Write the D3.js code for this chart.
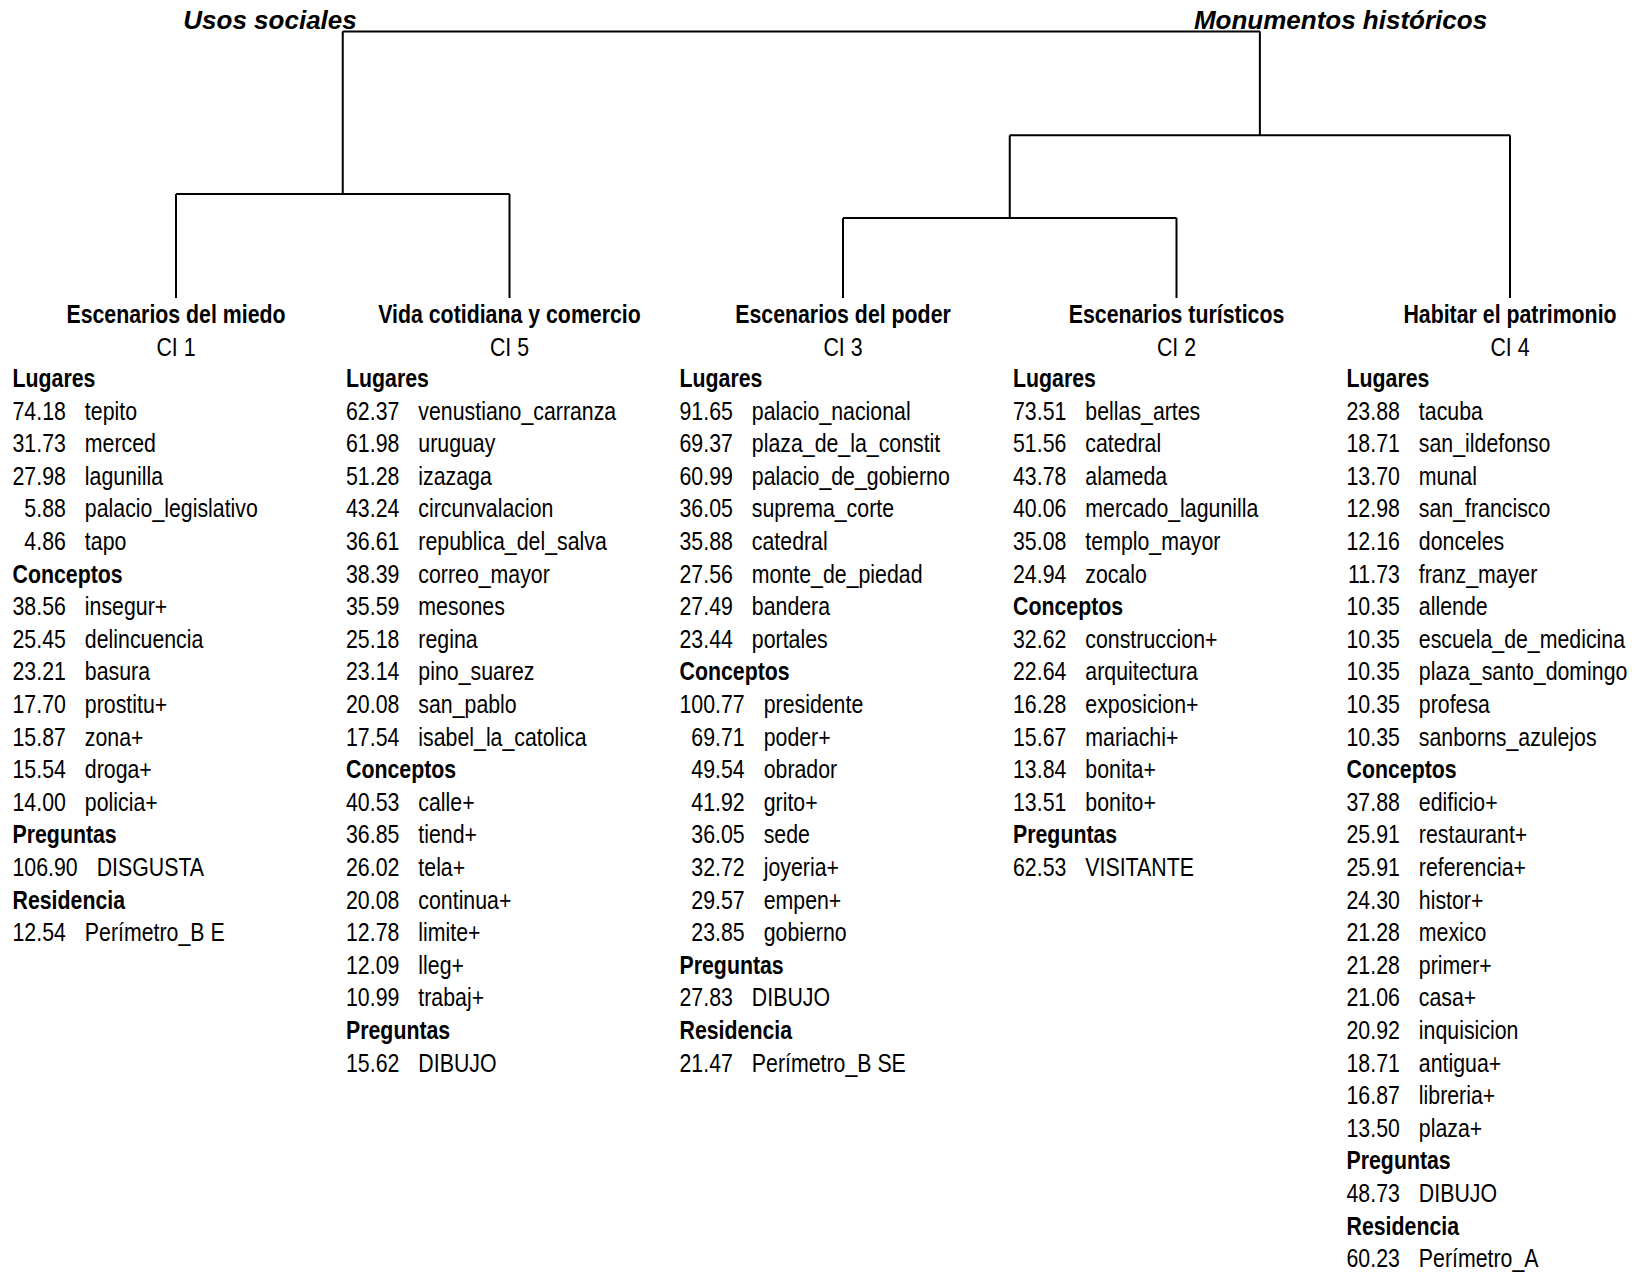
<!DOCTYPE html>
<html>
<head>
<meta charset="utf-8">
<script src="https://cdn.jsdelivr.net/npm/d3@7"></script>
<style>
  body { margin: 0; background: #fff; }
</style>
</head>
<body>
<div id="chart"></div>
<script>
// Dendrogram of the clusters
const nodeIds     = ["root", "usos", "monumentos", "poderTur", "CI 1", "CI 5", "CI 3", "CI 2", "CI 4"];
const nodeParents = ["",     "root", "root",       "monumentos", "usos", "usos", "poderTur", "poderTur", "monumentos"];
const nodeHeights = [1.0,    0.39,   0.61,         0.30,     0,      0,      0,      0,      0];
const nodeTitles  = ["", "Usos sociales", "Monumentos históricos", "", "", "", "", "", ""];

const leafOrder = ["CI 1", "CI 5", "CI 3", "CI 2", "CI 4"];
const clusterNames = ["Escenarios del miedo", "Vida cotidiana y comercio", "Escenarios del poder", "Escenarios turísticos", "Habitar el patrimonio"];

// Characteristic forms of each class
const ci1Lugares = [[74.18, "tepito"], [31.73, "merced"], [27.98, "lagunilla"], [5.88, "palacio_legislativo"], [4.86, "tapo"]];
const ci1Conceptos = [[38.56, "insegur+"], [25.45, "delincuencia"], [23.21, "basura"], [17.70, "prostitu+"], [15.87, "zona+"], [15.54, "droga+"], [14.00, "policia+"]];
const ci1Preguntas = [[106.90, "DISGUSTA"]];
const ci1Residencia = [[12.54, "Perímetro_B E"]];

const ci5Lugares = [[62.37, "venustiano_carranza"], [61.98, "uruguay"], [51.28, "izazaga"], [43.24, "circunvalacion"], [36.61, "republica_del_salva"], [38.39, "correo_mayor"], [35.59, "mesones"], [25.18, "regina"], [23.14, "pino_suarez"], [20.08, "san_pablo"], [17.54, "isabel_la_catolica"]];
const ci5Conceptos = [[40.53, "calle+"], [36.85, "tiend+"], [26.02, "tela+"], [20.08, "continua+"], [12.78, "limite+"], [12.09, "lleg+"], [10.99, "trabaj+"]];
const ci5Preguntas = [[15.62, "DIBUJO"]];

const ci3Lugares = [[91.65, "palacio_nacional"], [69.37, "plaza_de_la_constit"], [60.99, "palacio_de_gobierno"], [36.05, "suprema_corte"], [35.88, "catedral"], [27.56, "monte_de_piedad"], [27.49, "bandera"], [23.44, "portales"]];
const ci3Conceptos = [[100.77, "presidente"], [69.71, "poder+"], [49.54, "obrador"], [41.92, "grito+"], [36.05, "sede"], [32.72, "joyeria+"], [29.57, "empen+"], [23.85, "gobierno"]];
const ci3Preguntas = [[27.83, "DIBUJO"]];
const ci3Residencia = [[21.47, "Perímetro_B SE"]];

const ci2Lugares = [[73.51, "bellas_artes"], [51.56, "catedral"], [43.78, "alameda"], [40.06, "mercado_lagunilla"], [35.08, "templo_mayor"], [24.94, "zocalo"]];
const ci2Conceptos = [[32.62, "construccion+"], [22.64, "arquitectura"], [16.28, "exposicion+"], [15.67, "mariachi+"], [13.84, "bonita+"], [13.51, "bonito+"]];
const ci2Preguntas = [[62.53, "VISITANTE"]];

const ci4Lugares = [[23.88, "tacuba"], [18.71, "san_ildefonso"], [13.70, "munal"], [12.98, "san_francisco"], [12.16, "donceles"], [11.73, "franz_mayer"], [10.35, "allende"], [10.35, "escuela_de_medicina"], [10.35, "plaza_santo_domingo"], [10.35, "profesa"], [10.35, "sanborns_azulejos"]];
const ci4Conceptos = [[37.88, "edificio+"], [25.91, "restaurant+"], [25.91, "referencia+"], [24.30, "histor+"], [21.28, "mexico"], [21.28, "primer+"], [21.06, "casa+"], [20.92, "inquisicion"], [18.71, "antigua+"], [16.87, "libreria+"], [13.50, "plaza+"]];
const ci4Preguntas = [[48.73, "DIBUJO"]];
const ci4Residencia = [[60.23, "Perímetro_A"]];

const clusterSections = [
  [["Lugares", ci1Lugares], ["Conceptos", ci1Conceptos], ["Preguntas", ci1Preguntas], ["Residencia", ci1Residencia]],
  [["Lugares", ci5Lugares], ["Conceptos", ci5Conceptos], ["Preguntas", ci5Preguntas]],
  [["Lugares", ci3Lugares], ["Conceptos", ci3Conceptos], ["Preguntas", ci3Preguntas], ["Residencia", ci3Residencia]],
  [["Lugares", ci2Lugares], ["Conceptos", ci2Conceptos], ["Preguntas", ci2Preguntas]],
  [["Lugares", ci4Lugares], ["Conceptos", ci4Conceptos], ["Preguntas", ci4Preguntas], ["Residencia", ci4Residencia]]
];

const W = 1641, H = 1272;
const FS = 26;

// check if the narrow font is there, otherwise squeeze the normal one
const ctx = document.createElement("canvas").getContext("2d");
ctx.font = `${FS}px "Liberation Sans"`;
const wideW = ctx.measureText("palacio_legislativo").width;
ctx.font = `${FS}px "Liberation Sans Narrow", "Liberation Sans"`;
const narrowW = ctx.measureText("palacio_legislativo").width;
const hasNarrow = narrowW < wideW * 0.9;
const family = hasNarrow ? '"Liberation Sans Narrow", "Arial Narrow", sans-serif' : '"Liberation Sans", Arial, sans-serif';
const sx = hasNarrow ? 1 : 0.82;

function measure(str, bold) {
  ctx.font = `${bold ? "bold " : ""}${FS}px ${family}`;
  return ctx.measureText(str).width * sx;
}

const svg = d3.select("#chart").append("svg")
  .attr("width", W)
  .attr("height", H)
  .style("display", "block")
  .style("background", "#fff");

function addText(g, x, y, str, bold, anchor) {
  return g.append("text")
    .attr("transform", `translate(${x},${y}) scale(${sx},1)`)
    .attr("font-family", family)
    .attr("font-size", FS)
    .attr("font-weight", bold ? "bold" : "normal")
    .attr("text-anchor", anchor || "start")
    .attr("fill", "#000")
    .text(str);
}

// tree layout
const root = d3.stratify()
  .id((d, i) => nodeIds[i])
  .parentId((d, i) => nodeParents[i] || null)(nodeIds.map((id, i) => ({ id, h: nodeHeights[i], title: nodeTitles[i] })));

const x = d3.scalePoint().domain(leafOrder).range([176, 1510]);
const y = d3.scaleLinear().domain([0, 1]).range([298, 31.4]);

root.eachAfter(n => {
  if (!n.children) n.x = x(n.id);
  else {
    n.children.sort((a, b) => d3.min(a.leaves(), l => leafOrder.indexOf(l.id)) - d3.min(b.leaves(), l => leafOrder.indexOf(l.id)));
    n.x = d3.mean(n.children, c => c.x);
  }
  n.y = y(n.data.h);
});

const tree = svg.append("g")
  .attr("stroke", "#000")
  .attr("stroke-width", 2)
  .attr("fill", "none");

root.each(n => {
  if (!n.children) return;
  const xs = n.children.map(c => c.x);
  tree.append("line")
    .attr("x1", d3.min(xs)).attr("x2", d3.max(xs))
    .attr("y1", n.y).attr("y2", n.y);
  n.children.forEach(c => {
    tree.append("line")
      .attr("x1", c.x).attr("x2", c.x)
      .attr("y1", n.y).attr("y2", c.y);
  });
});

// branch titles
root.children.forEach((c, i) => {
  svg.append("text")
    .attr("x", i === 0 ? c.x + 14 : c.x - 66)
    .attr("y", 29)
    .attr("text-anchor", i === 0 ? "end" : "start")
    .attr("font-family", '"Liberation Sans", Arial, sans-serif')
    .attr("font-size", 26)
    .attr("font-weight", "bold")
    .attr("font-style", "italic")
    .attr("fill", "#000")
    .text(c.data.title);
});

// class columns
const fmt = d3.format(".2f");
const rowH = 32.6;
const gap = 19;

leafOrder.forEach((id, ci) => {
  const lx = x(id);
  const g = svg.append("g");
  addText(g, lx, 323, clusterNames[ci], true, "middle");
  addText(g, lx, 356, id, false, "middle");

  const x0 = lx - 163.5;
  let row = 0;
  clusterSections[ci].forEach(([title, rows]) => {
    addText(g, x0, 387 + row * rowH, title, true);
    row++;
    const numW = d3.max(rows, r => measure(fmt(r[0])));
    rows.forEach(r => {
      const yy = 387 + row * rowH;
      addText(g, x0 + numW, yy, fmt(r[0]), false, "end");
      addText(g, x0 + numW + gap, yy, r[1], false);
      row++;
    });
  });
});
</script>
</body>
</html>
